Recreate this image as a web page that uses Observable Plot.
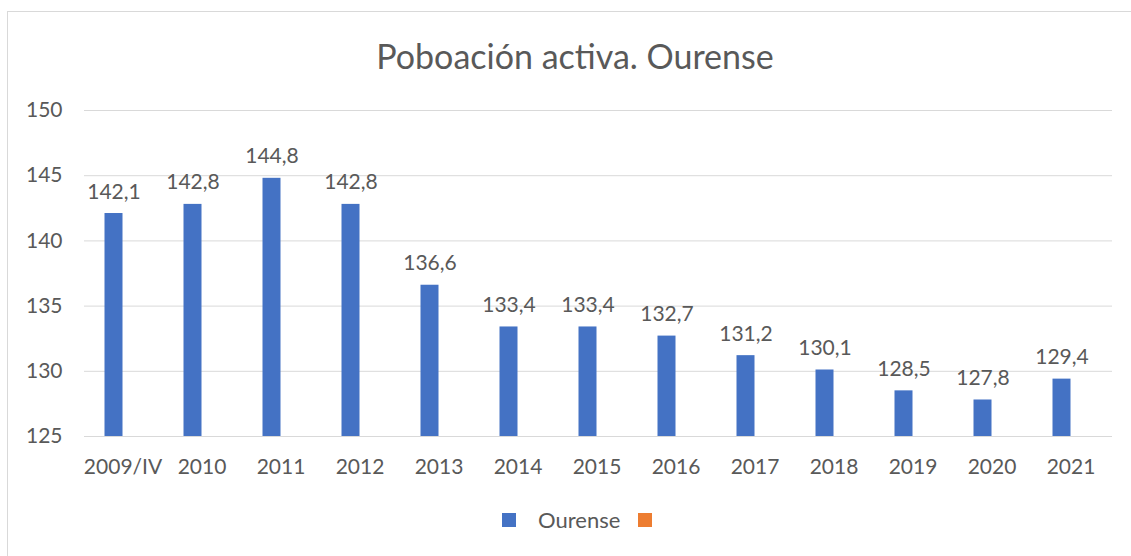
<!DOCTYPE html>
<html>
<head>
<meta charset="utf-8">
<script src="https://cdn.jsdelivr.net/npm/d3@7"></script>
<script src="https://cdn.jsdelivr.net/npm/@observablehq/plot@0.6"></script>
<style>
  html, body { margin: 0; padding: 0; background: #fff; width: 1131px; height: 556px; overflow: hidden; }
  body { position: relative; font-family: Lato, "Open Sans", sans-serif; color: #595959; }
  #frame { position: absolute; left: 7px; top: 11px; width: 1200px; height: 600px; border: 1px solid #d9d9d9; box-sizing: border-box; }
  #title { position: absolute; left: 0; width: 1150px; top: 35px; text-align: center; font-size: 34px; line-height: 42px; color: #595959; }
  #chart { position: absolute; left: 0; top: 80px; }
  #legend { position: absolute; top: 508px; left: 0; width: 1131px; height: 24px; }
  .sw { position: absolute; top: 5px; width: 14px; height: 14px; }
  .lab { position: absolute; top: 0; font-size: 22px; line-height: 24px; color: #595959; }
</style>
</head>
<body>
<div id="frame"></div>
<div id="title">Poboación activa. Ourense</div>
<div id="chart"></div>
<div id="legend">
  <div class="sw" style="left:502px;background:#4472C4"></div>
  <div class="lab" style="left:538px">Ourense</div>
  <div class="sw" style="left:638px;background:#ED7D31"></div>
</div>
<script>
const categories = ["2009/IV","2010","2011","2012","2013","2014","2015","2016","2017","2018","2019","2020","2021"];
const values = [142.1,142.8,144.8,142.8,136.6,133.4,133.4,132.7,131.2,130.1,128.5,127.8,129.4];
const yTicks = [125,130,135,140,145,150];

const data = categories.map((c, i) => ({cat: c, v: values[i]}));
const fmt = v => v.toFixed(1).replace(".", ",");
const txt = "#595959";

const plot = Plot.plot({
  width: 1131,
  height: 400,
  marginLeft: 84,
  marginRight: 19,
  marginTop: 30,
  marginBottom: 44,
  style: {fontFamily: "Lato, 'Open Sans', sans-serif", fontSize: "21px", color: txt, background: "transparent"},
  x: {type: "band", domain: categories, paddingInner: 0, paddingOuter: 0, label: null},
  y: {domain: [125, 150], label: null},
  marks: [
    Plot.gridY(yTicks, {stroke: "#d9d9d9", strokeOpacity: 1, strokeWidth: 1}),
    Plot.axisY(yTicks, {tickSize: 0, tickPadding: 22, tickFormat: d => String(d), fill: txt, fontSize: 21}),
    Plot.axisX({tickSize: 0, tickPadding: 23, fill: txt, fontSize: 21, dx: -2}),
    Plot.barY(data, {x: "cat", y1: 125, y2: "v", fill: "#4472C4", insetLeft: 30.5, insetRight: 30.5, dx: -11}),
    Plot.text(data, {x: "cat", y: "v", text: d => fmt(d.v), dx: -11, dy: -15, lineAnchor: "bottom", fill: txt, fontSize: 21})
  ]
});
document.getElementById("chart").appendChild(plot);
</script>
</body>
</html>
